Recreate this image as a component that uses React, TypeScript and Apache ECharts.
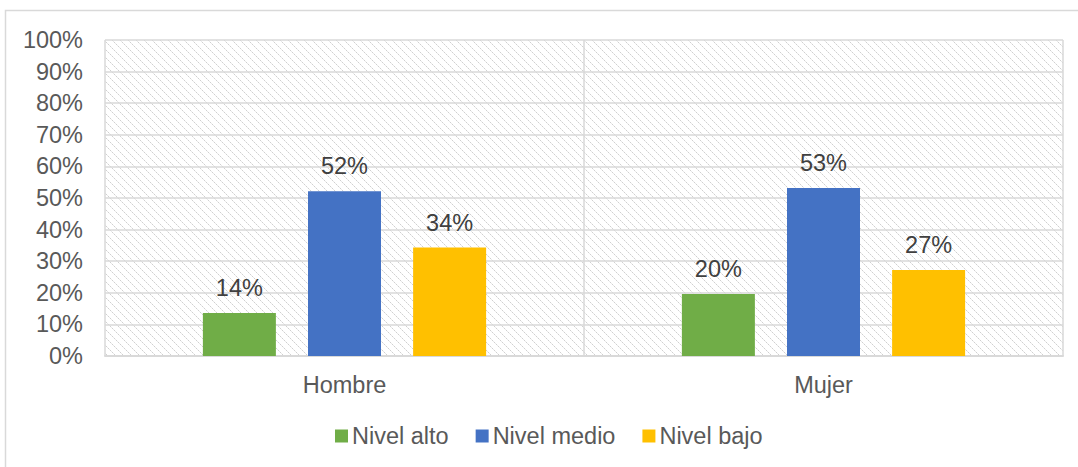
import React, { useEffect, useRef } from "react";
import * as echarts from "echarts";

const categories = ["Hombre", "Mujer"];
const nivelAlto = [13.6, 19.6];
const nivelMedio = [52.1, 53.2];
const nivelBajo = [34.3, 27.2];
const yTicks = [0, 10, 20, 30, 40, 50, 60, 70, 80, 90, 100];

function makeHatch(): HTMLCanvasElement {
  const c = document.createElement("canvas");
  const n = 8;
  c.width = n;
  c.height = n;
  const ctx = c.getContext("2d")!;
  ctx.fillStyle = "#ffffff";
  ctx.fillRect(0, 0, n, n);
  ctx.fillStyle = "#d0d0d0";
  for (let i = 0; i < n; i += 2) {
    ctx.fillRect(i, i, 1, 1);
  }
  ctx.fillStyle = "#e8e8e8";
  for (let i = 1; i < n; i += 2) {
    ctx.fillRect(i, i, 1, 1);
  }
  return c;
}

export default function App() {
  const ref = useRef<HTMLDivElement>(null);
  useEffect(() => {
    document.body.style.margin = "0";
    const chart = echarts.init(ref.current!, undefined, { renderer: "svg" });
    const font = "'Liberation Sans', Arial, sans-serif";
    const fs = 23.5;
    const labelStyle = {
      show: true,
      position: "top" as const,
      distance: 13,
      color: "#404040",
      fontSize: fs,
      fontFamily: font,
      formatter: (p: any) => Math.round(p.value) + "%",
    };
    chart.setOption({
      animation: false,
      textStyle: { fontFamily: font },
      graphic: [
        {
          type: "rect",
          shape: { x: 5.5, y: 10.5, width: 1200, height: 600 },
          style: { fill: "none", stroke: "#d9d9d9", lineWidth: 1.5 },
          silent: true,
          z: -10,
        },
      ],
      grid: {
        left: 105,
        right: 15,
        top: 40,
        bottom: 111,
        show: true,
        backgroundColor: { image: makeHatch(), repeat: "repeat" },
        borderWidth: 0,
      },
      legend: {
        left: 335,
        top: 424,
        padding: 0,
        itemWidth: 13,
        itemHeight: 13,
        itemGap: 27,
        icon: "rect",
        textStyle: { color: "#595959", fontSize: fs, fontFamily: font, padding: [0, 0, 0, -1] },
        data: ["Nivel alto", "Nivel medio", "Nivel bajo"],
      },
      xAxis: {
        type: "category",
        data: categories,
        axisLine: { lineStyle: { color: "#d9d9d9", width: 2 } },
        axisTick: { show: false },
        axisLabel: { color: "#595959", fontSize: fs, fontFamily: font, margin: 17 },
        splitLine: { show: true, lineStyle: { color: "#d9d9d9", width: 1.5 } },
      },
      yAxis: {
        type: "value",
        min: 0,
        max: 100,
        interval: 10,
        axisLine: { show: false },
        axisTick: { show: false },
        axisLabel: {
          color: "#595959",
          fontSize: fs,
          fontFamily: font,
          margin: 22,
          formatter: (v: number) => (yTicks.includes(v) ? v + "%" : ""),
        },
        splitLine: { show: true, lineStyle: { color: "#d9d9d9", width: 1.5 } },
      },
      series: [
        {
          name: "Nivel alto",
          type: "bar",
          data: nivelAlto,
          barWidth: 73,
          barGap: "44%",
          itemStyle: { color: "#70AD47" },
          label: labelStyle,
        },
        {
          name: "Nivel medio",
          type: "bar",
          data: nivelMedio,
          barWidth: 73,
          barGap: "44%",
          itemStyle: { color: "#4472C4" },
          label: labelStyle,
        },
        {
          name: "Nivel bajo",
          type: "bar",
          data: nivelBajo,
          barWidth: 73,
          barGap: "44%",
          itemStyle: { color: "#FFC000" },
          label: labelStyle,
        },
      ],
    });
    return () => chart.dispose();
  }, []);
  return <div ref={ref} style={{ width: 1078, height: 467 }} />;
}
